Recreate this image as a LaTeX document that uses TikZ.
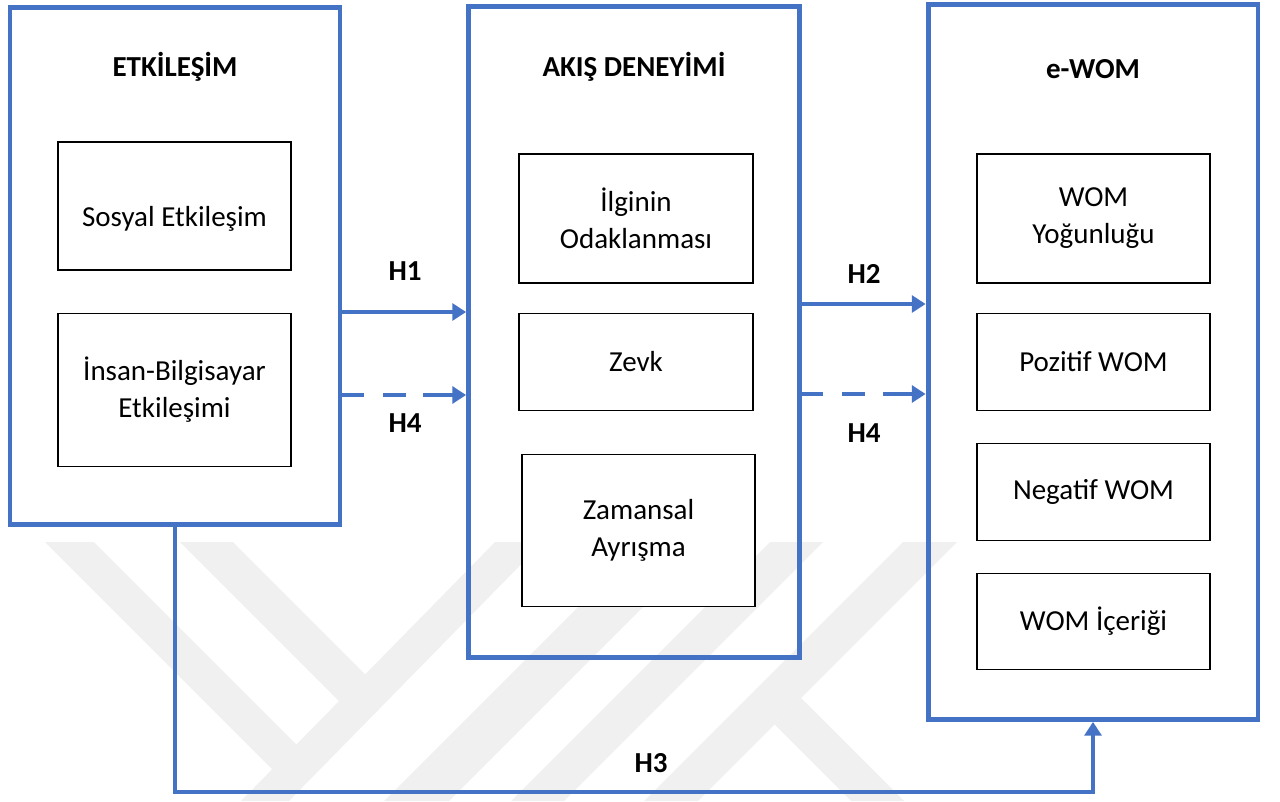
\documentclass[tikz,border=0pt]{standalone}
\usepackage{fontspec}
\setmainfont{Carlito}
\usetikzlibrary{arrows.meta,positioning}

\definecolor{ofisblue}{HTML}{4472C4}
\definecolor{filigran}{HTML}{F0F0F0}

\tikzstyle{arrow} = [line width=1.8pt,ofisblue,-{Triangle[length=7.8pt,width=9.6pt]}]
\tikzstyle{dasharrow} = [
        arrow,
        line width=2.8pt,
        dash pattern=on 12pt off 11pt on 13pt off 10pt on 30pt off 1pt
    ]
\tikzstyle{group} = [
        rectangle,
        draw=ofisblue,
        line width=2.8pt,
        inner sep=0pt,
        minimum width=6.6cm
    ]
\tikzstyle{block} = [
        rectangle,
        minimum width=4.66cm,
        align=center,
        draw=black,
        fill=white,
        line width=0.7pt
    ]
\tikzstyle{title} = [font=\fontsize{16.5}{21}\selectfont\bfseries, anchor=base]

\begin{document}
\begin{tikzpicture}[x=0.02cm, y=-0.02cm, font=\fontsize{16.5}{21}\selectfont]
        \useasboundingbox (0,0) rectangle (1280,801);

        % watermark in the background
        \fill[filigran] (45,542) -- (94,542) -- (297,745) -- (272.5,769.5) -- cycle;
        \fill[filigran] (180,542) -- (233,542) -- (366.5,675.5) -- (340,702) -- cycle;
        \fill[filigran] (495,542) -- (543,542) -- (289,801) -- (241,801) -- cycle;
        \fill[filigran] (643,542) -- (708,542) -- (449,801) -- (384,801) -- cycle;
        \fill[filigran] (770,542) -- (823,542) -- (564,801) -- (511,801) -- cycle;
        \fill[filigran] (903,542) -- (957,542) -- (698,801) -- (644,801) -- cycle;
        \fill[filigran] (801,698) -- (904,801) -- (851,801) -- (774.5,724.5) -- cycle;

        \node (etk) [group, minimum height=10.35cm] at (175,266) {};
        \node (akis) [group, minimum width=6.62cm, minimum height=13.03cm] at (634,332) {};
        \node (ewom) [group, minimum height=14.3cm] at (1093,362) {};

        \node (etktitle) [title] at (175,76) {ETKİLEŞİM};
        \node (akistitle) [title] at (634,76) {AKIŞ DENEYİMİ};
        \node (ewomtitle) [title] at (1093,78) {e-WOM};

        % ETKILESIM
        \node (sosyal) [block, minimum height=2.56cm] at (174.5,206) {\rule{0pt}{26pt}Sosyal Etkileşim};
        \node (insan) [%
            block,%
            minimum height=3.06cm,%
            below=0.84cm of sosyal
            ] {İnsan-Bilgisayar\\Etkileşimi};

        % AKIS DENEYIMI
        \node (ilgi) [block, minimum width=4.68cm, minimum height=2.58cm] at (636,218.5) {İlginin\\Odaklanması};
        \node (zevk) [%
            block,%
            minimum width=4.68cm,%
            minimum height=1.94cm,%
            below=0.58cm of ilgi
            ] {Zevk};
        \node (zaman) [%
            block,%
            minimum height=3.04cm,%
            below=0.86cm of zevk,%
            xshift=0.05cm
            ] {Zamansal\\Ayrışma};

        % e-WOM
        \node (yogun) [block, minimum height=2.58cm] at (1093.5,218.5) {WOM\\Yoğunluğu};
        \node (pozitif) [%
            block,%
            minimum height=1.94cm,%
            below=0.58cm of yogun
            ] {Pozitif WOM};
        \node (negatif) [%
            block,%
            minimum height=1.94cm,%
            below=0.64cm of pozitif
            ] {Negatif WOM};
        \node (icerik) [%
            block,%
            minimum height=1.92cm,%
            below=0.64cm of negatif
            ] {WOM İçeriği};

        \node (h1) [title] at (405,280) {H1};
        \node (h4a) [title] at (405,432) {H4};
        \node (h2) [title] at (864,283) {H2};
        \node (h4b) [title] at (864,442) {H4};
        \node (h3) [title] at (651,772) {H3};

        \draw [arrow] (etk.east |- 0,312) -- (akis.west |- 0,312);
        \draw [dasharrow] (etk.east |- 0,395) -- (akis.west |- 0,395);
        \draw [arrow] (akis.east |- 0,304) -- (ewom.west |- 0,304);
        \draw [dasharrow] (akis.east |- 0,394) -- (ewom.west |- 0,394);
        \draw [arrow] (etk.south) -- (etk.south |- 0,792) -| (ewom.south);

\end{tikzpicture}
\end{document}
